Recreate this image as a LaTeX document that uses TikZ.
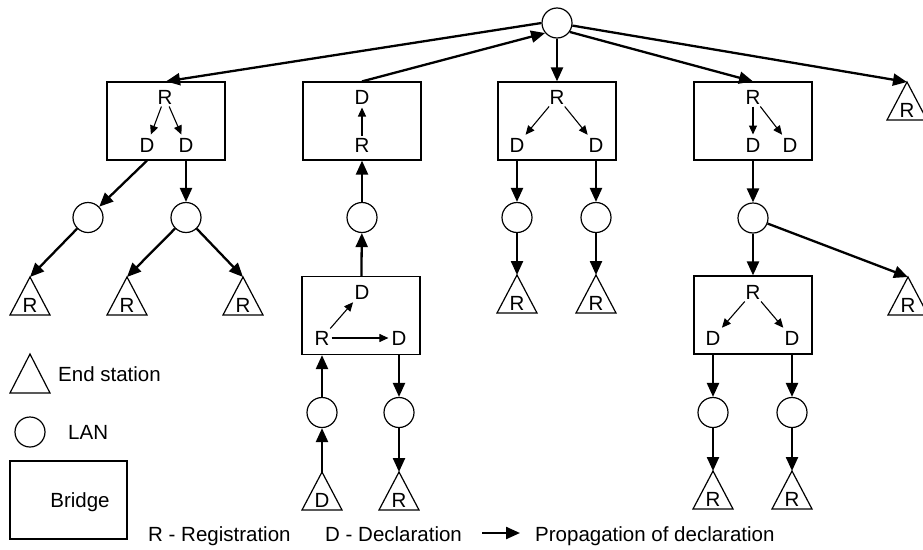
\documentclass[tikz,border=0pt]{standalone}
\usepackage{fontspec}
\setmainfont{Liberation Sans}
\usetikzlibrary{arrows.meta}

% end station: a triangle hanging from its apex coordinate, letter near the base
\newcommand\station[4]{%
  \coordinate (#1) at (#2,#3);
  \draw[line width=1.2pt, line join=miter] (#1) -- ++(-20,38) -- ++(40,0) -- cycle;
  \node[lbl] (#1l) at (#2,#3+28) {#4};
}

\begin{document}
\begin{tikzpicture}[x=1pt,y=-1pt,
  font=\fontsize{20.5}{24}\selectfont,
  bridge/.style={draw, line width=1.2pt, minimum width=118pt, minimum height=78pt, inner sep=0pt},
  lan/.style={draw, circle, line width=1.2pt, minimum size=30pt, inner sep=0pt},
  lbl/.style={inner sep=2pt, text height=14.6pt, text depth=0pt},
  txt/.style={inner sep=0pt, anchor=west, text height=14.6pt, text depth=0pt},
  prop/.style={line width=2.3pt, -{Triangle[length=14pt,width=12pt]}},
  intra/.style={line width=1.1pt, -{Triangle[length=9pt,width=8pt]}, shorten >=1pt},
]
\useasboundingbox (0,0) rectangle (923,549);

% ---------- LANs ----------
\node[lan] (lan0) at (557,23) {};
\node[lan] (lan1) at (88,217.5) {};
\node[lan] (lan2) at (186,217.5) {};
\node[lan] (lan3) at (362,217.5) {};
\node[lan] (lan6) at (517,217.5) {};
\node[lan] (lan7) at (596,217.5) {};
\node[lan] (lan8) at (753,218) {};
\node[lan] (lan4) at (322,412.5) {};
\node[lan] (lan5) at (399,412.5) {};
\node[lan] (lan9) at (713,412.5) {};
\node[lan] (lan10) at (792,412.5) {};

% ---------- bridges ----------
\node[bridge] (b1) at (166,121) {};
\node[bridge] (b2) at (362,121) {};
\node[bridge] (b3) at (557,121) {};
\node[bridge] (b4) at (753,121) {};
\node[bridge] (b5) at (361,315.5) {};
\node[bridge] (b6) at (753,315) {};

% bridge 1
\node[lbl] (b1r) at (165,97) {R};
\node[lbl] (b1d1) at (147,145) {D};
\node[lbl] (b1d2) at (186,145) {D};
\draw[intra] (b1r) -- (b1d1);
\draw[intra] (b1r) -- (b1d2);
% bridge 2
\node[lbl] (b2d) at (362,97) {D};
\node[lbl] (b2r) at (362,145) {R};
\draw[intra] (b2r) -- (b2d);
% bridge 3
\node[lbl] (b3r) at (557,97) {R};
\node[lbl] (b3d1) at (517,145) {D};
\node[lbl] (b3d2) at (596,145) {D};
\draw[intra] (b3r) -- (b3d1);
\draw[intra] (b3r) -- (b3d2);
% bridge 4
\node[lbl] (b4r) at (753,97) {R};
\node[lbl] (b4d1) at (753,145) {D};
\node[lbl] (b4d2) at (790,145) {D};
\draw[intra] (b4r) -- (b4d1);
\draw[intra] (b4r) -- (b4d2);
% bridge 5
\node[lbl] (b5d1) at (362,292) {D};
\node[lbl] (b5r) at (322,338) {R};
\node[lbl] (b5d2) at (399,338) {D};
\draw[intra] (b5r) -- (b5d1);
\draw[intra] (b5r) -- (b5d2);
% bridge 6
\node[lbl] (b6r) at (753,292) {R};
\node[lbl] (b6d1) at (713,338) {D};
\node[lbl] (b6d2) at (792,338) {D};
\draw[intra] (b6r) -- (b6d1);
\draw[intra] (b6r) -- (b6d2);

% ---------- end stations ----------
\station{e0}{907}{82}{R}
\station{e1}{30}{277}{R}
\station{e2}{127}{277}{R}
\station{e3}{243}{277}{R}
\station{e4}{517}{275}{R}
\station{e5}{596}{275}{R}
\station{e6}{908}{277}{R}
\station{e7}{322}{472}{D}
\station{e8}{399}{472}{R}
\station{e9}{713}{471}{R}
\station{e10}{792}{471}{R}

% ---------- propagation of the declaration ----------
\draw[prop] (lan0.180) -- (b1.north);
\draw[prop] (b2.north) -- (lan0.220);
\draw[prop] (lan0) -- (b3);
\draw[prop] (lan0.-35) -- (b4.north);
\draw[prop] (lan0) -- (e0);

\draw[prop] (b1d1 |- b1.south) -- (lan1);
\draw[prop] (b1d2 |- b1.south) -- (lan2);
\draw[prop] (lan1) -- (e1);
\draw[prop] (lan2) -- (e2);
\draw[prop] (lan2) -- (e3);

\draw[prop] (b5) -- (lan3);
\draw[prop] (lan3) -- (b2);
\draw[prop] (e7) -- (lan4);
\draw[prop] (lan4) -- (b5r |- b5.south);
\draw[prop] (b5d2 |- b5.south) -- (lan5);
\draw[prop] (lan5) -- (e8);

\draw[prop] (b3d1 |- b3.south) -- (lan6);
\draw[prop] (lan6) -- (e4);
\draw[prop] (b3d2 |- b3.south) -- (lan7);
\draw[prop] (lan7) -- (e5);

\draw[prop] (b4d1 |- b4.south) -- (lan8);
\draw[prop] (lan8) -- (b6);
\draw[prop] (lan8) -- (e6);
\draw[prop] (b6d1 |- b6.south) -- (lan9);
\draw[prop] (lan9) -- (e9);
\draw[prop] (b6d2 |- b6.south) -- (lan10);
\draw[prop] (lan10) -- (e10);

% ---------- legend ----------
\coordinate (le) at (30,354);
\draw[line width=1.2pt, line join=miter] (le) -- ++(-20,39) -- ++(40,0) -- cycle;
\node[txt] (tEnd) at (58,374) {End station};
\node[lan] (lanL) at (30,432) {};
\node[txt] (tLan) at (68,432) {LAN};
\node[bridge, minimum width=117pt] (bL) at (68.5,500) {};
\node[lbl] (tBr) at (80,500) {Bridge};
\node[txt] (tR) at (148,534) {R - Registration};
\node[txt] (tD) at (325,534) {D - Declaration};
\coordinate (pa) at (482,533);
\coordinate (pb) at (520,533);
\draw[prop] (pa) -- (pb);
\node[txt] (tP) at (535,534) {Propagation of declaration};
\end{tikzpicture}
\end{document}
